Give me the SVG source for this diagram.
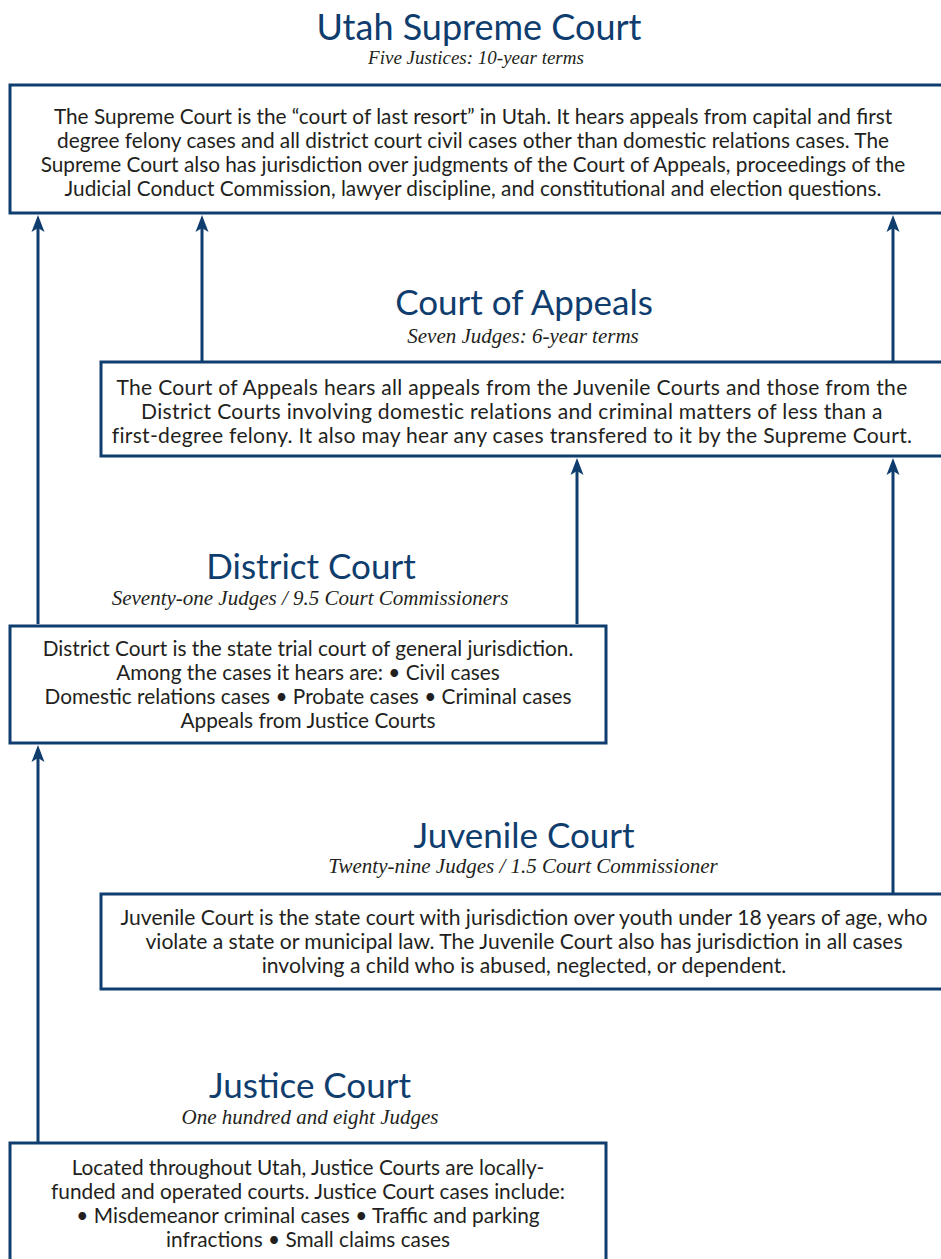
<svg xmlns="http://www.w3.org/2000/svg" width="941" height="1259" viewBox="0 0 941 1259">
<style>
.box{fill:#fff;stroke:#0f3d6e;stroke-width:3}
.title{font-family:Lato,"Open Sans",sans-serif;fill:#0f3d6e;text-anchor:middle;font-size:35px}
.sub{font-family:"Liberation Serif",serif;font-style:italic;fill:#231f20;text-anchor:middle;font-size:21px}
.body{font-family:Lato,"Open Sans",sans-serif;fill:#231f20;text-anchor:middle;font-size:20.8px}
.wide{font-size:21.1px;letter-spacing:0.3px}
.conn line{stroke:#0f3d6e;stroke-width:3}
</style>
<defs>
<marker id="ah" viewBox="-18 -7 19 14" markerWidth="19" markerHeight="14" refX="-8" refY="0" orient="auto" markerUnits="userSpaceOnUse">
<path d="M0,0 L-17,-6.5 L-13,0 L-17,6.5 Z" fill="#0f3d6e"/>
</marker>
</defs>
<rect width="941" height="1259" fill="#fff"/>
<g id="supreme">
<text class="title" x="479" y="40" style="font-size:36px">Utah Supreme Court</text>
<text class="sub" x="476" y="64" style="font-size:19px">Five Justices: 10-year terms</text>
<rect class="box" x="10" y="85" width="940" height="128"/>
<text class="body" x="473" y="124">The Supreme Court is the “court of last resort” in Utah. It hears appeals from capital and first</text>
<text class="body" x="473" y="148">degree felony cases and all district court civil cases other than domestic relations cases. The</text>
<text class="body" x="473" y="172">Supreme Court also has jurisdiction over judgments of the Court of Appeals, proceedings of the</text>
<text class="body" x="473" y="196">Judicial Conduct Commission, lawyer discipline, and constitutional and election questions.</text>
</g>
<g id="appeals">
<text class="title" x="524" y="315">Court of Appeals</text>
<text class="sub" x="523" y="343">Seven Judges: 6-year terms</text>
<rect class="box" x="101" y="362" width="850" height="94"/>
<text class="body wide" x="512" y="395">The Court of Appeals hears all appeals from the Juvenile Courts and those from the</text>
<text class="body wide" x="512" y="419">District Courts involving domestic relations and criminal matters of less than a</text>
<text class="body wide" x="512" y="443">first-degree felony. It also may hear any cases transfered to it by the Supreme Court.</text>
</g>
<g id="district">
<text class="title" x="311" y="579">District Court</text>
<text class="sub" x="310" y="605">Seventy-one Judges / 9.5 Court Commissioners</text>
<rect class="box" x="10" y="626" width="596" height="117"/>
<text class="body" x="308" y="656">District Court is the state trial court of general jurisdiction.</text>
<text class="body" x="308" y="680">Among the cases it hears are: • Civil cases</text>
<text class="body" x="308" y="704">Domestic relations cases • Probate cases • Criminal cases</text>
<text class="body" x="308" y="728">Appeals from Justice Courts</text>
</g>
<g id="juvenile">
<text class="title" x="524" y="848">Juvenile Court</text>
<text class="sub" x="523" y="873">Twenty-nine Judges / 1.5 Court Commissioner</text>
<rect class="box" x="101" y="894" width="850" height="95"/>
<text class="body" x="524" y="925" style="font-size:21.1px">Juvenile Court is the state court with jurisdiction over youth under 18 years of age, who</text>
<text class="body" x="524" y="949" style="font-size:21.1px">violate a state or municipal law. The Juvenile Court also has jurisdiction in all cases</text>
<text class="body" x="524" y="973" style="font-size:21.1px">involving a child who is abused, neglected, or dependent.</text>
</g>
<g id="justice">
<text class="title" x="310" y="1098">Justice Court</text>
<text class="sub" x="310" y="1124">One hundred and eight Judges</text>
<rect class="box" x="10" y="1143" width="596" height="130"/>
<text class="body" x="308" y="1175">Located throughout Utah, Justice Courts are locally-</text>
<text class="body" x="308" y="1199">funded and operated courts. Justice Court cases include:</text>
<text class="body" x="308" y="1223">• Misdemeanor criminal cases • Traffic and parking</text>
<text class="body" x="308" y="1247">infractions • Small claims cases</text>
</g>
<g id="connectors" class="conn">
<line x1="38" y1="624" x2="38" y2="223" marker-end="url(#ah)"/>
<line x1="202" y1="361" x2="202" y2="223" marker-end="url(#ah)"/>
<line x1="893" y1="361" x2="893" y2="223" marker-end="url(#ah)"/>
<line x1="577" y1="624" x2="577" y2="466" marker-end="url(#ah)"/>
<line x1="893" y1="893" x2="893" y2="466" marker-end="url(#ah)"/>
<line x1="38" y1="1142" x2="38" y2="753" marker-end="url(#ah)"/>
</g>
</svg>
